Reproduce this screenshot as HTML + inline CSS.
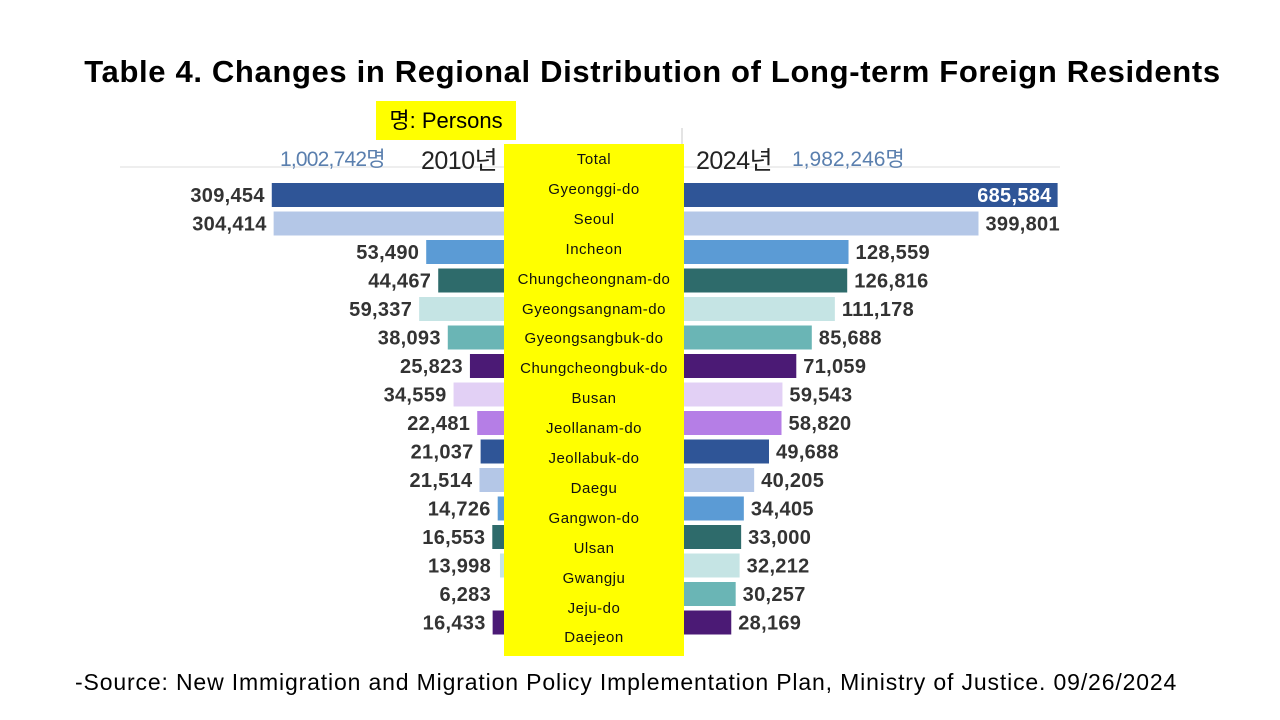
<!DOCTYPE html>
<html><head><meta charset="utf-8"><style>
body{margin:0;width:1280px;height:720px;background:#fff;position:relative;overflow:hidden;font-family:"Liberation Sans","Noto Sans CJK KR",sans-serif}
.abs{position:absolute}
</style></head><body>
<div class="abs" style="left:0;width:1305px;top:54px;text-align:center;font-size:31px;letter-spacing:0.65px;font-weight:bold;color:#000">Table 4. Changes in Regional Distribution of Long-term Foreign Residents</div>
<div class="abs" style="left:376px;top:101px;width:140px;height:39px;background:#ffff00;font-size:22px;line-height:39px;text-align:center">명: Persons</div>
<div class="abs" style="left:120px;top:166px;width:940px;height:2px;background:#eee"></div>
<div class="abs" style="left:681px;top:128px;width:2px;height:18px;background:#e4e4e4"></div>
<div class="abs" style="left:280px;top:143px;font-size:21px;color:#5a7fae;letter-spacing:-0.8px">1,002,742명</div>
<div class="abs" style="left:421px;top:141px;font-size:25px;color:#222;letter-spacing:-0.5px">2010년</div>
<div class="abs" style="left:696px;top:141px;font-size:25px;color:#222;letter-spacing:-0.5px">2024년</div>
<div class="abs" style="left:792px;top:143px;font-size:21px;color:#5a7fae;letter-spacing:0px">1,982,246명</div>
<svg class="abs" style="left:0;top:0" width="1280" height="720" id="chart"></svg>
<div class="abs" style="left:504px;top:144px;width:180px;height:512px;background:#ffff00"></div>
<div class="abs" id="labels" style="left:504px;top:144px;width:180px"></div>
<div class="abs" style="left:75px;top:669px;font-size:23px;letter-spacing:0.85px;color:#000">-Source: New Immigration and Migration Policy Implementation Plan, Ministry of Justice. 09/26/2024</div>
<script>
const regions=["Total","Gyeonggi-do","Seoul","Incheon","Chungcheongnam-do","Gyeongsangnam-do","Gyeongsangbuk-do","Chungcheongbuk-do","Busan","Jeollanam-do","Jeollabuk-do","Daegu","Gangwon-do","Ulsan","Gwangju","Jeju-do","Daejeon"];
const bars=regions.slice(1);
const v2010=[309454,304414,53490,44467,59337,38093,25823,34559,22481,21037,21514,14726,16553,13998,6283,16433];
const v2024=[685584,399801,128559,126816,111178,85688,71059,59543,58820,49688,40205,34405,33000,32212,30257,28169];
const colors=["#2f5597","#b4c7e7","#5b9bd5","#2e6b6b","#c5e4e4","#6ab5b5","#4b1a75","#e2d0f5","#b57ee6","#2f5597","#b4c7e7","#5b9bd5","#2e6b6b","#c5e4e4","#6ab5b5","#4b1a75"];
const NS="http://www.w3.org/2000/svg";
const svg=document.getElementById('chart');
const xL=v=>649-8.5*Math.pow(v,0.3);
const xR=v=>528+9.4*Math.pow(v,0.3);
const yRow=i=>195+i*28.5;
const fmt=v=>v.toLocaleString('en-US');
bars.forEach((r,i)=>{
  const y=yRow(i);
  const a=document.createElementNS(NS,'rect');
  
  
  const l=xL(v2010[i]);
  a.setAttribute('x',l);a.setAttribute('y',y-12);a.setAttribute('width',594-l);a.setAttribute('height',24);a.setAttribute('fill',colors[i]);
  svg.appendChild(a);
  const b=document.createElementNS(NS,'rect');
  
  
  const rr=xR(v2024[i]);
  b.setAttribute('x',594);b.setAttribute('y',y-12);b.setAttribute('width',rr-594);b.setAttribute('height',24);b.setAttribute('fill',colors[i]);
  svg.appendChild(b);
  const t1=document.createElementNS(NS,'text');
  
  
  t1.setAttribute('x',Math.min(l,498)-7);t1.setAttribute('y',y+7);t1.setAttribute('text-anchor','end');
  t1.setAttribute('font-size','20');t1.setAttribute('font-weight','bold');t1.setAttribute('fill','#333');t1.setAttribute('letter-spacing','0.3');
  t1.textContent=fmt(v2010[i]);svg.appendChild(t1);
  const t2=document.createElementNS(NS,'text');
  
  
  t2.setAttribute('font-size','20');t2.setAttribute('font-weight','bold');t2.setAttribute('letter-spacing','0.3');
  t2.setAttribute('y',y+7);
  if(i===0){t2.setAttribute('x',rr-6);t2.setAttribute('text-anchor','end');t2.setAttribute('fill','#fff');}
  else{t2.setAttribute('x',rr+7);t2.setAttribute('fill','#333');}
  t2.textContent=fmt(v2024[i]);svg.appendChild(t2);
});
const lab=document.getElementById('labels');
regions.forEach((r,i)=>{
  const d=document.createElement('div');
  
  
  d.style.cssText='position:absolute;left:0;width:180px;text-align:center;font-size:15px;letter-spacing:0.5px;color:#111;top:'+(7+i*29.9)+'px';
  d.textContent=r;lab.appendChild(d);
});
</script>
</body></html>
